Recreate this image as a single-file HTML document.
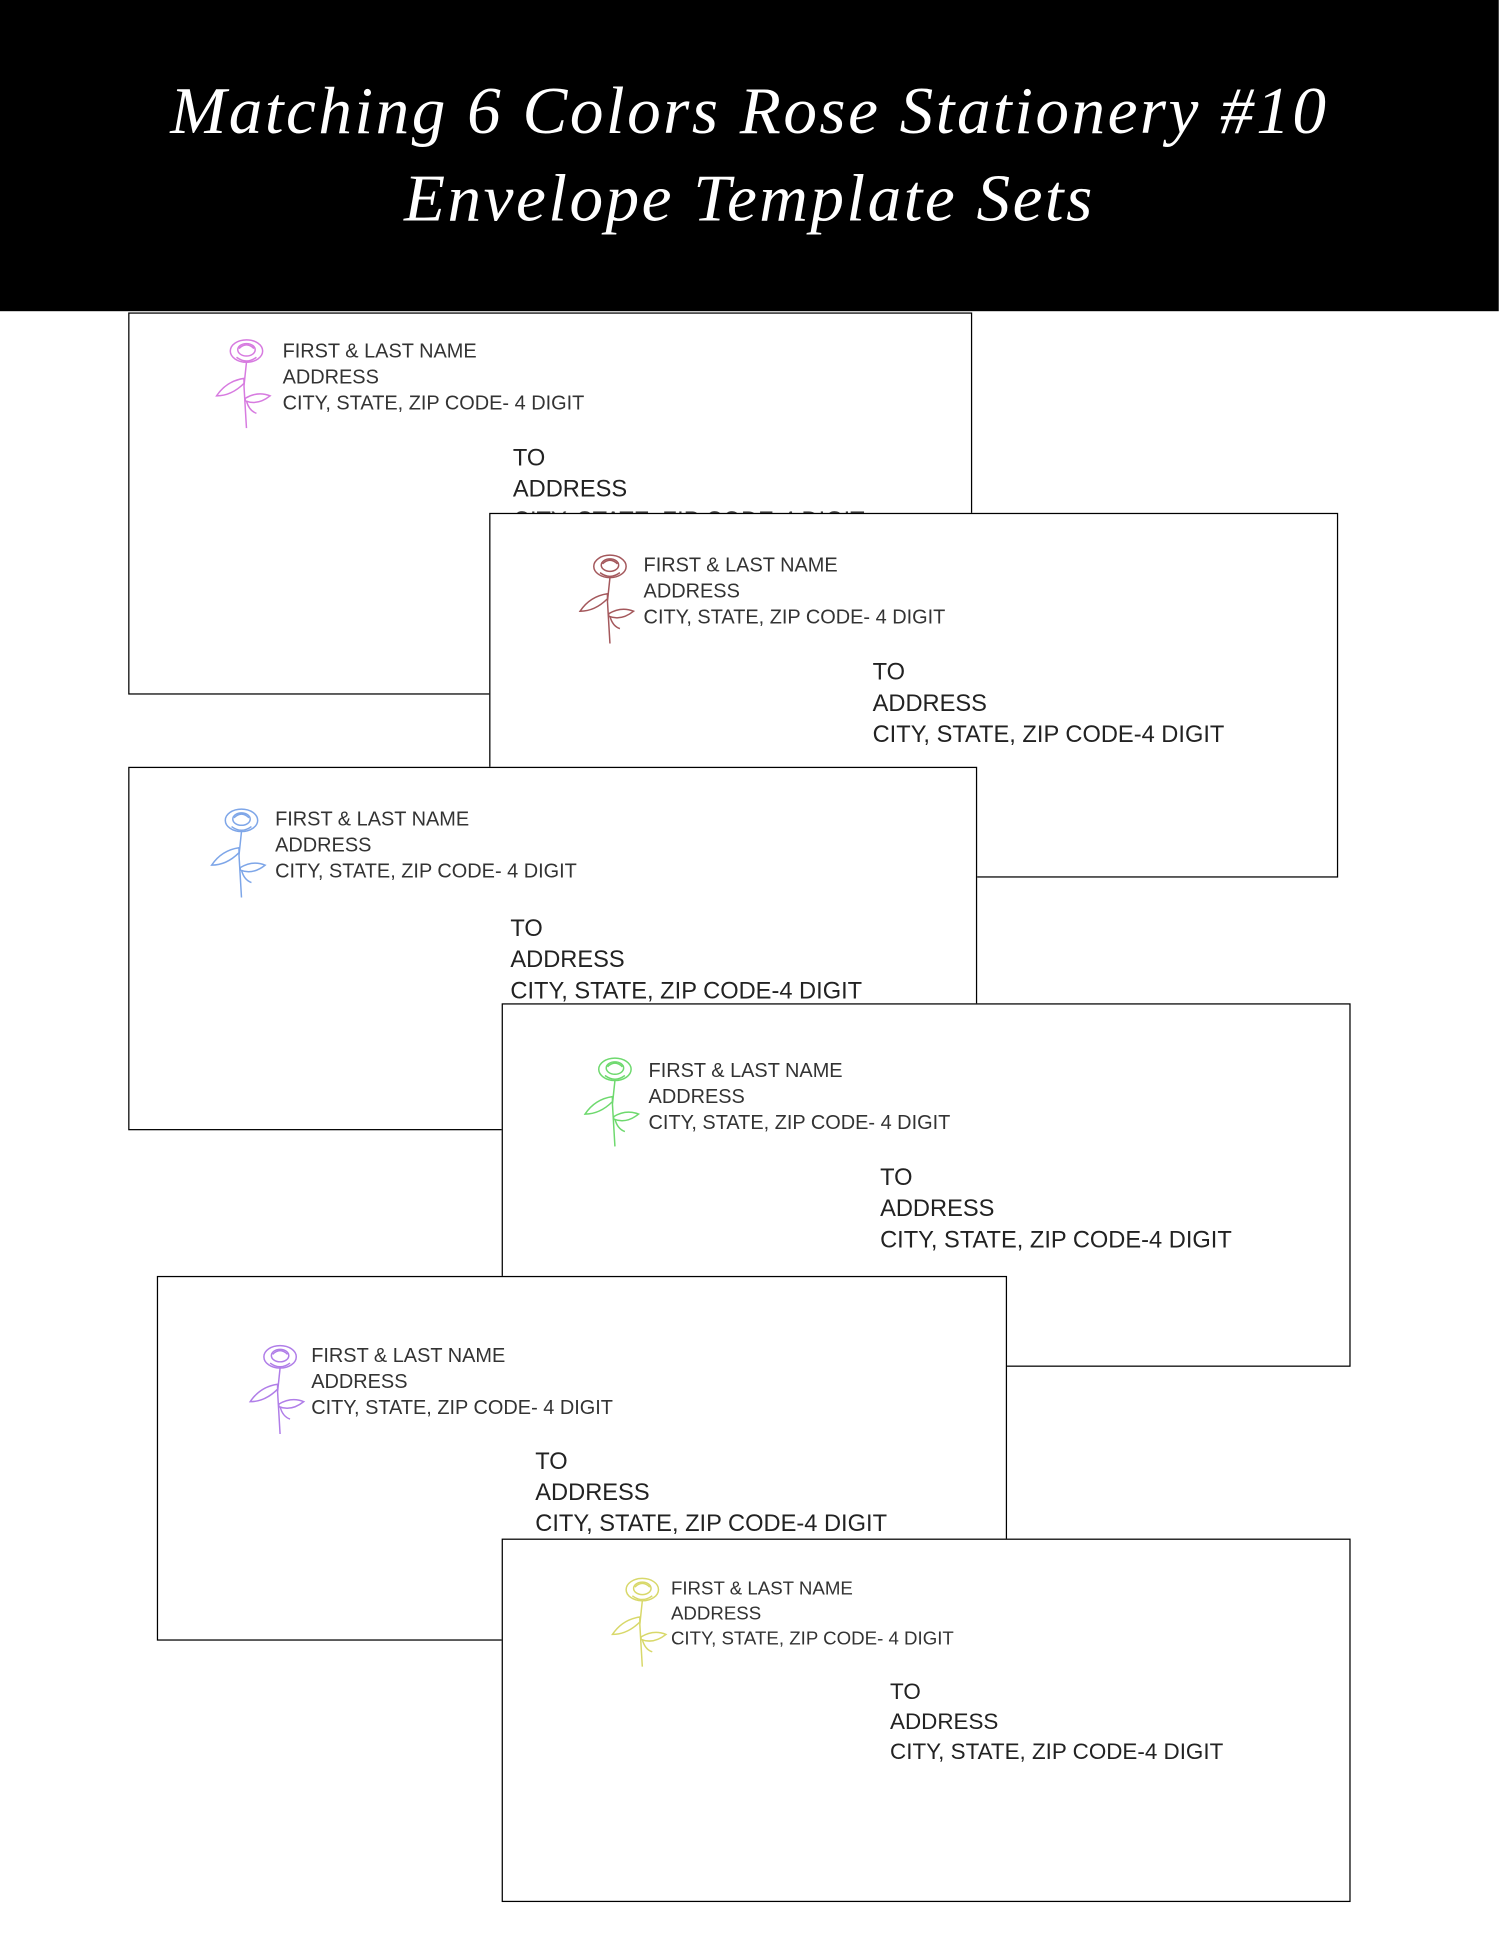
<!DOCTYPE html>
<html><head><meta charset="utf-8"><style>
html,body{margin:0;padding:0;background:#fff;width:1500px;height:1950px;overflow:hidden}
#w{position:absolute;left:0;top:0;width:1205px;height:1567px;transform:scale(1.2448);transform-origin:0 0}
.bar{position:absolute;left:0;top:0;width:1204px;height:250px;background:#000}
.t{position:absolute;left:0;width:1204px;text-align:center;color:#fff;font-family:"Liberation Serif",serif;font-style:italic;font-size:54px;letter-spacing:2px;white-space:nowrap}
.env{position:absolute;width:678px;height:290px;background:#fff;border:1.5px solid #000;box-sizing:border-box}
.ret{position:absolute;font-family:"Liberation Sans",sans-serif;font-size:16px;line-height:21px;color:#333;white-space:nowrap}
.to{position:absolute;font-family:"Liberation Sans",sans-serif;font-size:19px;line-height:25px;color:#222;white-space:nowrap}
.rose{position:absolute;width:56px;height:74px}
</style></head><body><div id="w">
<div class="bar"></div>
<div class="t" style="top:58px">Matching 6 Colors Rose Stationery #10</div>
<div class="t" style="top:128px">Envelope Template Sets</div>

<svg width="0" height="0" style="position:absolute"><defs>
<g id="r" fill="none" stroke-width="1.2">
<ellipse cx="30" cy="12" rx="13" ry="9"/><ellipse cx="30" cy="11" rx="7" ry="5"/><path d="M24 10 q6 -6 12 0 M22 17 q8 6 16 0"/>
<path d="M30 21 L28 40 L30 74"/>
<path d="M28 34 q-14 2 -22 14 q12 0 22 -10 z"/><path d="M29 50 q10 -6 20 -2 q-10 8 -20 4 z"/><path d="M30 52 q2 8 8 10"/>
</g></defs></svg>

<div class="env" style="left:103px;top:251px;height:307px">
<svg class="rose" style="left:64px;top:18px" viewBox="0 0 56 74"><use href="#r" stroke="#d77be0"/></svg>
<div class="ret" style="left:123px;top:20px">FIRST &amp; LAST NAME<br>ADDRESS<br>CITY, STATE, ZIP CODE- 4 DIGIT</div>
<div class="to" style="left:308px;top:104px">TO<br>ADDRESS<br>CITY, STATE, ZIP CODE-4 DIGIT</div></div>

<div class="env" style="left:393px;top:412px;height:293px;width:682px">
<svg class="rose" style="left:66px;top:30px" viewBox="0 0 56 74"><use href="#r" stroke="#a4585c"/></svg>
<div class="ret" style="left:123px;top:31px">FIRST &amp; LAST NAME<br>ADDRESS<br>CITY, STATE, ZIP CODE- 4 DIGIT</div>
<div class="to" style="left:307px;top:115px">TO<br>ADDRESS<br>CITY, STATE, ZIP CODE-4 DIGIT</div></div>

<div class="env" style="left:103px;top:616px;height:292px;width:682px">
<svg class="rose" style="left:60px;top:30px" viewBox="0 0 56 74"><use href="#r" stroke="#7ea6e8"/></svg>
<div class="ret" style="left:117px;top:31px">FIRST &amp; LAST NAME<br>ADDRESS<br>CITY, STATE, ZIP CODE- 4 DIGIT</div>
<div class="to" style="left:306px;top:117px">TO<br>ADDRESS<br>CITY, STATE, ZIP CODE-4 DIGIT</div></div>

<div class="env" style="left:403px;top:806px;height:292px;width:682px">
<svg class="rose" style="left:60px;top:40px" viewBox="0 0 56 74"><use href="#r" stroke="#6ed96e"/></svg>
<div class="ret" style="left:117px;top:43px">FIRST &amp; LAST NAME<br>ADDRESS<br>CITY, STATE, ZIP CODE- 4 DIGIT</div>
<div class="to" style="left:303px;top:127px">TO<br>ADDRESS<br>CITY, STATE, ZIP CODE-4 DIGIT</div></div>

<div class="env" style="left:126px;top:1025px;height:293px;width:683px">
<svg class="rose" style="left:68px;top:52px" viewBox="0 0 56 74"><use href="#r" stroke="#b07ee8"/></svg>
<div class="ret" style="left:123px;top:53px">FIRST &amp; LAST NAME<br>ADDRESS<br>CITY, STATE, ZIP CODE- 4 DIGIT</div>
<div class="to" style="left:303px;top:136px">TO<br>ADDRESS<br>CITY, STATE, ZIP CODE-4 DIGIT</div></div>

<div class="env" style="left:403px;top:1236px;height:292px;width:682px">
<svg class="rose" style="left:82px;top:28px" viewBox="0 0 56 74"><use href="#r" stroke="#d8d86a"/></svg>
<div class="ret" style="left:135px;top:30px;font-size:15px;line-height:20px">FIRST &amp; LAST NAME<br>ADDRESS<br>CITY, STATE, ZIP CODE- 4 DIGIT</div>
<div class="to" style="left:311px;top:110px;font-size:18px;line-height:24px">TO<br>ADDRESS<br>CITY, STATE, ZIP CODE-4 DIGIT</div></div>
</div></body></html>
